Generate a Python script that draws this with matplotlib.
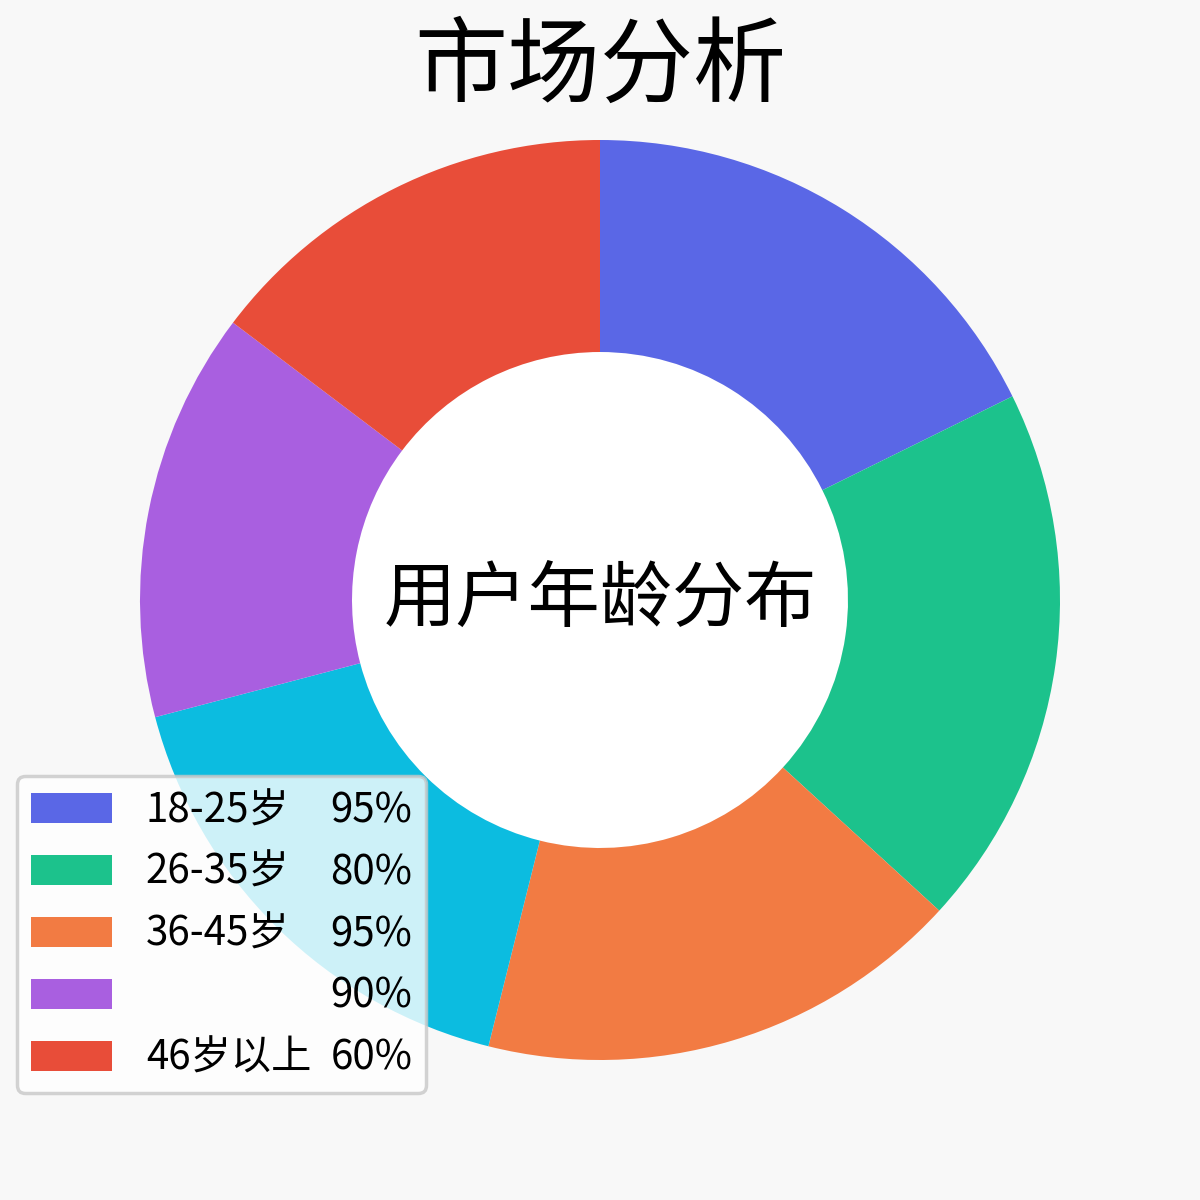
import matplotlib
matplotlib.use("Agg")
import matplotlib.pyplot as plt
from matplotlib.patches import Patch, Circle

plt.rcParams['font.family'] = ['Noto Sans CJK SC', 'DejaVu Sans']

# ---- data ----
title = "市场分析"
center_label = "用户年龄分布"
slice_shares = [17.7, 19.1, 17.1, 17.0, 14.4, 14.7]   # blue, green, orange, cyan, purple, red
slice_colors = ["#5A67E6", "#1CC28C", "#F27B43", "#0CBCE0", "#A95FE0", "#E84D39"]
legend_slices = [0, 1, 2, 4, 5]
legend_names = ["18-25岁", "26-35岁", "36-45岁", "", "46岁以上"]
legend_pcts = ["95%", "80%", "95%", "90%", "60%"]

W = H = 1200
FS = 29
fig = plt.figure(figsize=(12, 12), dpi=100, facecolor="#F8F8F8")
ax = fig.add_axes([0, 0, 1, 1])
ax.set_facecolor("#F8F8F8")

R_out = 460.0
R_in = 248.0
wedges, _ = ax.pie(slice_shares, colors=slice_colors, startangle=90, counterclock=False,
                   radius=1.0, wedgeprops=dict(width=1 - R_in / R_out, edgecolor="none"))
ax.add_patch(Circle((0, 0), R_in / R_out, facecolor="white", edgecolor="none", zorder=0.5))

lim = 600.0 / R_out
ax.set_xlim(-lim, lim)
ax.set_ylim(-lim, lim)
ax.set_aspect("equal")
ax.axis("off")

ax.text(0, 0, center_label, ha="center", va="center", fontsize=52, color="black")
fig.text(0.5, 1 - 68 / H, title, ha="center", va="center", fontsize=67, color="black")

fs_px = FS * 100 / 72.0
handles = [Patch(facecolor=slice_colors[i], edgecolor="none") for i in legend_slices]
blank = [Patch(facecolor="none", edgecolor="none", alpha=0) for _ in legend_pcts]
labels = list(legend_names) + list(legend_pcts)
col_offset = 19.0  # px between widest name and percentage column
leg = fig.legend(handles + blank, labels, ncol=2, loc="lower left",
                 bbox_to_anchor=(17 / W, 1 - 1093 / H), bbox_transform=fig.transFigure,
                 fontsize=FS, handlelength=2.0, handleheight=0.75, handletextpad=0.85,
                 columnspacing=(col_offset / fs_px) - 2.0 - 0.85,
                 labelspacing=0.52, borderpad=0.35, borderaxespad=0,
                 frameon=True, fancybox=True, framealpha=0.8, edgecolor="#C8C8C8")
leg.get_frame().set_linewidth(2.5)
leg.get_frame().set_facecolor("white")

fig.savefig("out.png", dpi=100, facecolor=fig.get_facecolor())
